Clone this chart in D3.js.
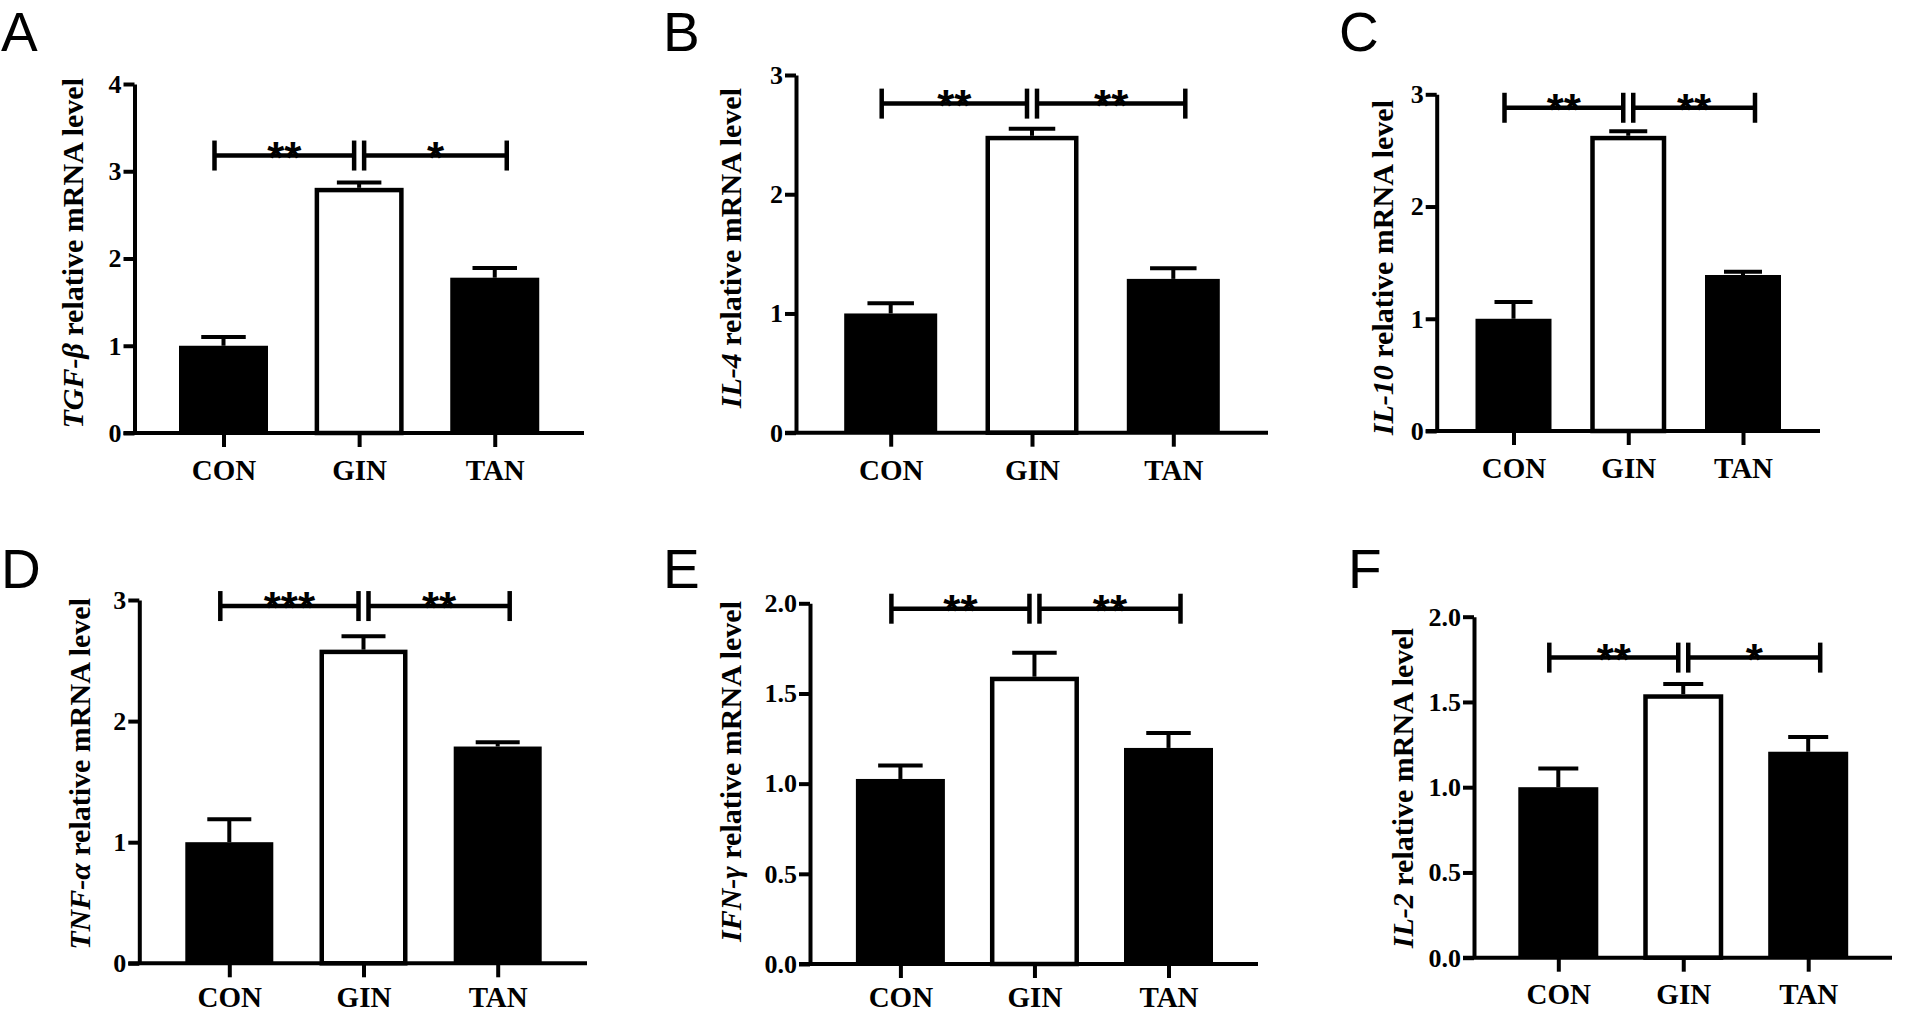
<!DOCTYPE html>
<html>
<head>
<meta charset="utf-8">
<script src="https://cdn.jsdelivr.net/npm/d3@7"></script>
<style>
  body { margin: 0; background: #fff; }
  .serif { font-family: "Liberation Serif", "Times New Roman", serif; font-weight: bold; }
</style>
</head>
<body>
<div id="chart"></div>
<script>
// categories and gene names
const groups = ["CON", "GIN", "TAN"];
const genes = ["TGF-β", "IL-4", "IL-10", "TNF-α", "IFN-γ", "IL-2"];
const letters = ["A", "B", "C", "D", "E", "F"];

// mean and error
const tgfbMean = [1.00, 2.81, 1.78];
const tgfbErr  = [0.10, 0.06, 0.11];
const il4Mean  = [1.00, 2.49, 1.29];
const il4Err   = [0.085, 0.06, 0.09];
const il10Mean = [1.00, 2.63, 1.39];
const il10Err  = [0.15, 0.04, 0.03];
const tnfaMean = [1.00, 2.59, 1.79];
const tnfaErr  = [0.19, 0.11, 0.035];
const ifngMean = [1.026, 1.593, 1.198];
const ifngErr  = [0.074, 0.133, 0.083];
const il2Mean  = [1.00, 1.545, 1.208];
const il2Err   = [0.11, 0.06, 0.086];

const means = [tgfbMean, il4Mean, il10Mean, tnfaMean, ifngMean, il2Mean];
const errs  = [tgfbErr, il4Err, il10Err, tnfaErr, ifngErr, il2Err];

// y axis max and tick step per panel
const yMaxes = [4, 3, 3, 3, 2, 2];
const tickSteps = [1, 1, 1, 1, 0.5, 0.5];

// significance brackets: level (in data units), CON-GIN stars, GIN-TAN stars
const sigLevels = [3.18, 2.76, 2.88, 2.95, 1.97, 1.76];
const sigLeft  = ["**", "**", "**", "***", "**", "**"];
const sigRight = ["*", "**", "**", "**", "**", "*"];

// panel placement in page pixels
const layout = [
  {axisX: 134.5, xEnd: 584,  yBase: 433,   yTop: 84,    c0: 223.5,  c2: 494.75, barW: 89, titleX: 83,   titleTop: 78,  lx: 1,    ly: 51,  labY: 47},
  {axisX: 796,   xEnd: 1268, yBase: 432.7, yTop: 75,    c0: 890.7,  c2: 1173.3, barW: 93, titleX: 741,  titleTop: 88,  lx: 663,  ly: 51,  labY: 47},
  {axisX: 1436.7,xEnd: 1820, yBase: 431,   yTop: 94.3,  c0: 1513.5, c2: 1743,   barW: 76, titleX: 1393, titleTop: 100, lx: 1339, ly: 51,  labY: 47},
  {axisX: 139.3, xEnd: 587,  yBase: 963.3, yTop: 600,   c0: 229.3,  c2: 497.7,  barW: 88, titleX: 90,   titleTop: 598, lx: 1,    ly: 588, labY: 44},
  {axisX: 810,   xEnd: 1258, yBase: 964,   yTop: 603.3, c0: 900.4,  c2: 1168.5, barW: 89, titleX: 741,  titleTop: 601, lx: 663,  ly: 588, labY: 43},
  {axisX: 1474,  xEnd: 1892, yBase: 957.7, yTop: 616.7, c0: 1558.3, c2: 1808.2, barW: 80, titleX: 1413, titleTop: 628, lx: 1348, ly: 588, labY: 46}
];

const lw = 4;

let svg = d3.select("#chart")
  .append("svg")
  .attr("width", 1905)
  .attr("height", 1013)
  .attr("viewBox", "0 0 1905 1013");

layout.forEach((p, i) => drawPanel(p, i));

function drawPanel(p, i) {
  const g = svg.append("g");
  const mean = means[i], err = errs[i];
  const step = tickSteps[i];

  let y = d3.scaleLinear()
    .domain([0, yMaxes[i]])
    .range([p.yBase, p.yTop]);

  let x = d3.scalePoint()
    .domain(groups)
    .range([p.c0, p.c2]);

  // bars (GIN hollow, others filled)
  const bw = p.barW;
  g.selectAll("rect.bar")
    .data(groups)
    .join("rect")
      .attr("class", "bar")
      .attr("x", (d, k) => k === 1 ? x(d) - bw / 2 + 2.25 : x(d) - bw / 2)
      .attr("width", (d, k) => k === 1 ? bw - 4.5 : bw)
      .attr("y", (d, k) => k === 1 ? y(mean[k]) + 2.25 : y(mean[k]))
      .attr("height", (d, k) => y(0) - y(mean[k]) - (k === 1 ? 2.25 : 0))
      .attr("fill", (d, k) => k === 1 ? "#fff" : "#000")
      .attr("stroke", (d, k) => k === 1 ? "#000" : "none")
      .attr("stroke-width", 4.5);

  // error bars (upper only)
  const capW = bw * 0.5;
  g.selectAll("line.err")
    .data(groups)
    .join("line")
      .attr("class", "err")
      .attr("x1", d => x(d)).attr("x2", d => x(d))
      .attr("y1", (d, k) => y(mean[k]))
      .attr("y2", (d, k) => y(mean[k] + err[k]))
      .attr("stroke", "#000").attr("stroke-width", lw);
  g.selectAll("line.cap")
    .data(groups)
    .join("line")
      .attr("class", "cap")
      .attr("x1", d => x(d) - capW / 2).attr("x2", d => x(d) + capW / 2)
      .attr("y1", (d, k) => y(mean[k] + err[k]))
      .attr("y2", (d, k) => y(mean[k] + err[k]))
      .attr("stroke", "#000").attr("stroke-width", lw);

  // y axis
  const fmt = step < 1 ? d3.format(".1f") : d3.format("d");
  const yAxis = g.append("g")
    .attr("transform", `translate(${p.axisX},0)`)
    .call(d3.axisLeft(y)
      .tickValues(d3.range(0, yMaxes[i] + step / 2, step))
      .tickSize(11)
      .tickSizeOuter(0)
      .tickPadding(2)
      .tickFormat(fmt));
  yAxis.select(".domain").attr("stroke-width", lw);
  yAxis.selectAll(".tick line").attr("stroke-width", lw);
  yAxis.selectAll(".tick text")
    .attr("class", "serif")
    .attr("font-size", 26)
    .attr("fill", "#000");

  // x axis: baseline + category ticks + labels
  g.append("line")
    .attr("x1", p.axisX - 11).attr("x2", p.xEnd)
    .attr("y1", p.yBase).attr("y2", p.yBase)
    .attr("stroke", "#000").attr("stroke-width", lw);

  const xAxis = g.append("g")
    .attr("transform", `translate(0,${p.yBase})`)
    .call(d3.axisBottom(x).tickSize(14).tickSizeOuter(0));
  xAxis.select(".domain").remove();
  xAxis.selectAll(".tick line").attr("stroke-width", lw);
  xAxis.selectAll(".tick text")
    .attr("class", "serif")
    .attr("font-size", 29)
    .attr("fill", "#000")
    .attr("y", p.labY)
    .attr("dy", null);

  // y title
  const title = g.append("text")
    .attr("class", "serif")
    .attr("font-size", 30)
    .attr("text-anchor", "end")
    .attr("transform", `translate(${p.titleX},${p.titleTop}) rotate(-90)`);
  title.append("tspan").attr("font-style", "italic").text(genes[i]);
  title.append("tspan").text(" relative mRNA level");

  // significance brackets
  const ys = y(sigLevels[i]);
  const brackets = [
    {x1: x("CON") - 9, x2: x("GIN") - 5, label: sigLeft[i]},
    {x1: x("GIN") + 5, x2: x("TAN") + 12, label: sigRight[i]}
  ];
  brackets.forEach(b => {
    g.append("line")
      .attr("x1", b.x1).attr("x2", b.x2)
      .attr("y1", ys).attr("y2", ys)
      .attr("stroke", "#000").attr("stroke-width", 4.5);
    [b.x1, b.x2].forEach(xx => {
      g.append("line")
        .attr("x1", xx).attr("x2", xx)
        .attr("y1", ys - 15).attr("y2", ys + 15)
        .attr("stroke", "#000").attr("stroke-width", 4.5);
    });
    g.append("text")
      .attr("x", (b.x1 + b.x2) / 2)
      .attr("y", ys + 17)
      .attr("text-anchor", "middle")
      .attr("font-family", "Liberation Sans, Arial, sans-serif")
      .attr("font-weight", "bold")
      .attr("font-size", 44)
      .text(b.label);
  });

  // panel letter (font with a small ascent so its box stays inside the page)
  svg.append("text")
    .attr("x", p.lx)
    .attr("y", p.ly)
    .attr("font-family", "Liberation Sans, Arial, sans-serif")
    .attr("font-size", 55)
    .text(letters[i]);
}
</script>
</body>
</html>
